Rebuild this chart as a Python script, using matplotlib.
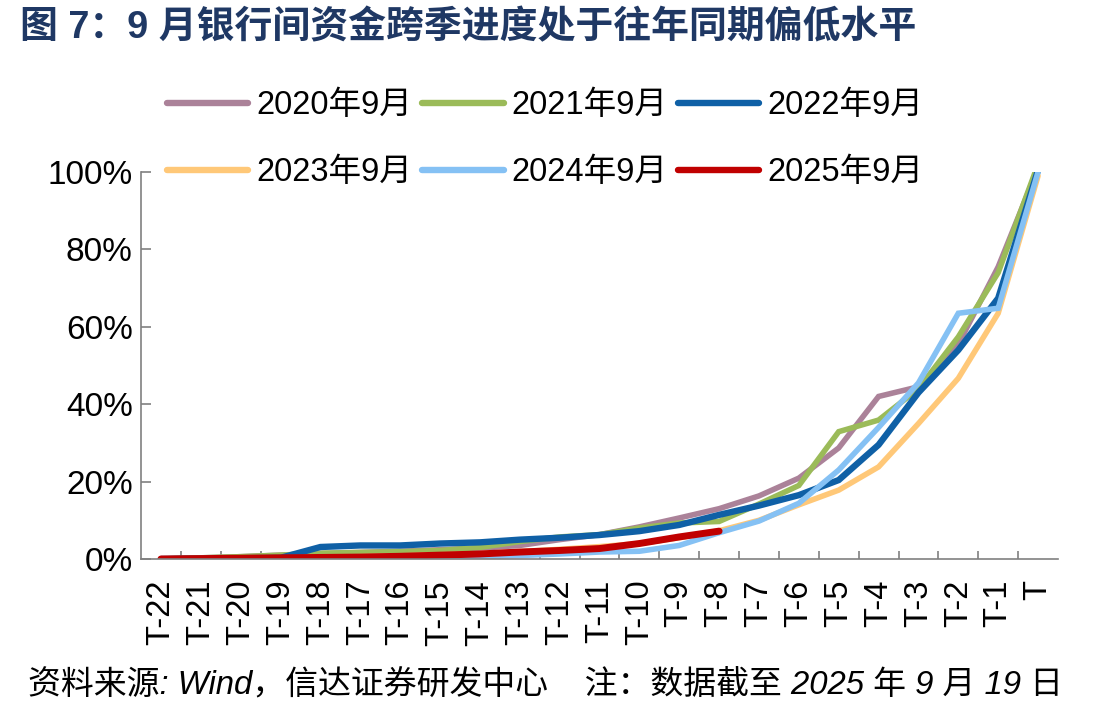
import numpy as np
import matplotlib
matplotlib.use("Agg")
import matplotlib.pyplot as plt

plt.rcParams['font.family'] = ['Liberation Sans', 'Noto Sans CJK SC', 'DejaVu Sans']

categories = [f"T-{i}" for i in range(22, 0, -1)] + ["T"]

y2020 = [0, 0.003, 0.006, 0.010, 0.014, 0.017, 0.020, 0.024, 0.028, 0.035, 0.050, 0.063,
         0.083, 0.106, 0.130, 0.163, 0.209, 0.287, 0.420, 0.445, 0.555, 0.755, 1.01]
y2021 = [0, 0.003, 0.006, 0.010, 0.015, 0.017, 0.019, 0.022, 0.030, 0.045, 0.057, 0.063,
         0.080, 0.093, 0.097, 0.142, 0.190, 0.329, 0.359, 0.440, 0.574, 0.740, 1.02]
y2022 = [0, 0.001, 0.002, 0.003, 0.031, 0.035, 0.035, 0.040, 0.043, 0.050, 0.055, 0.062,
         0.072, 0.088, 0.114, 0.138, 0.165, 0.204, 0.295, 0.430, 0.540, 0.674, 1.005]
y2023 = [0, 0.001, 0.002, 0.003, 0.004, 0.006, 0.008, 0.011, 0.014, 0.019, 0.025, 0.032,
         0.040, 0.055, 0.073, 0.100, 0.140, 0.178, 0.238, 0.350, 0.467, 0.635, 0.99]
y2024 = [0, 0, 0, 0, 0, 0.001, 0.002, 0.004, 0.006, 0.009, 0.013, 0.018,
         0.020, 0.035, 0.068, 0.098, 0.144, 0.230, 0.340, 0.455, 0.635, 0.648, 1.0]
y2025 = [0, 0.001, 0.002, 0.003, 0.004, 0.005, 0.007, 0.010, 0.013, 0.018, 0.022, 0.027,
         0.040, 0.057, 0.072]

series = [
    ("2020年9月", y2020, "#AB8299", 4.0),
    ("2021年9月", y2021, "#9BBB59", 4.0),
    ("2022年9月", y2022, "#0F60A6", 4.6),
    ("2023年9月", y2023, "#FFC878", 4.0),
    ("2024年9月", y2024, "#85C1F4", 4.0),
    ("2025年9月", y2025, "#C00000", 5.0),
]

fig = plt.figure(figsize=(11.09, 7.15), dpi=100)
ax = fig.add_axes([141 / 1109, 1 - 559 / 715, 917 / 1109, 387 / 715])

x = np.arange(len(categories))
lines = []
for label, vals, color, lw in series:
    ln, = ax.plot(x[:len(vals)], vals, color=color, lw=lw, label=label,
                  solid_capstyle='round', solid_joinstyle='miter')
    lines.append(ln)

ax.set_xlim(-0.5, len(categories) - 0.5)
ax.set_ylim(0, 1.0)
ax.set_yticks(np.arange(0, 1.01, 0.2))
ax.set_yticklabels([f"{int(round(v * 100))}%" for v in np.arange(0, 1.01, 0.2)])
ax.set_xticks(x)
ax.set_xticklabels(categories, rotation=90)
ax.set_xticks(np.arange(0.5, len(categories) - 1, 1), minor=True)

for s in ['top', 'right']:
    ax.spines[s].set_visible(False)
for s in ['left', 'bottom']:
    ax.spines[s].set_color('#808080')
    ax.spines[s].set_linewidth(1.2)

ax.tick_params(axis='x', which='major', length=0, pad=15, labelsize=23.5)
ax.tick_params(axis='x', which='minor', direction='in', length=6, color='#808080', width=1.2)
ax.tick_params(axis='y', direction='in', length=7, color='#808080', width=1.2,
               labelsize=24, pad=6)

# legend fills column-wise, so reorder to get row-wise layout
order = [0, 3, 1, 4, 2, 5]
leg = fig.legend([lines[i] for i in order], [series[i][0] for i in order],
                 loc='center', bbox_to_anchor=(545 / 1109, 1 - 139 / 715), ncol=3,
                 frameon=False, fontsize=23.5, handlelength=2.5, handletextpad=0.25,
                 columnspacing=0.3, labelspacing=1.1, borderpad=0)
for h in leg.get_lines():
    h.set_linewidth(4.6)
    h.set_solid_capstyle('round')

fig.text(20 / 1109, 1 - 28 / 715, "图 7：9 月银行间资金跨季进度处于往年同期偏低水平",
         fontsize=27.3, fontweight='bold', color='#1F3864', ha='left', va='center')

fig.text(28 / 1109, 1 - 685 / 715,
         "资料来源: Wind，信达证券研发中心    注：数据截至 2025 年 9 月 19 日",
         fontsize=23.7, fontstyle='italic', color='black', ha='left', va='center')

fig.savefig("out.png", dpi=100)
